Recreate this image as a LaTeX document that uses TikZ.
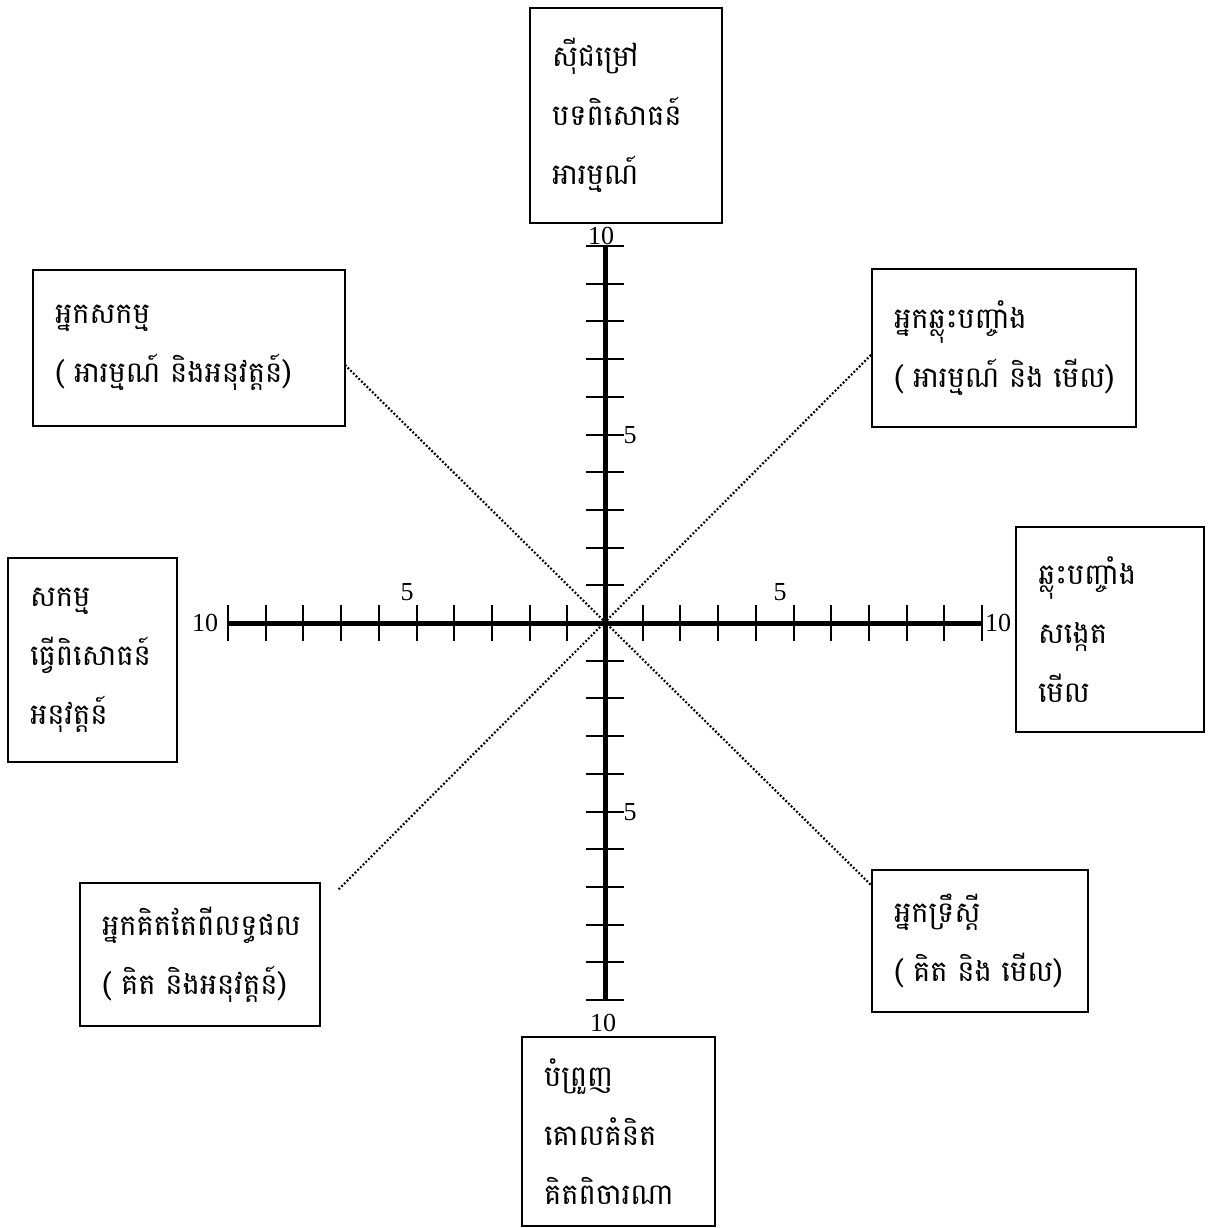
\documentclass[tikz,border=0pt]{standalone}
\usepackage{fontspec}
\setmainfont{Liberation Serif}
\newfontfamily\khm[Script=Khmer]{Battambang}
\begin{document}
\begin{tikzpicture}[x=1pt,y=-1pt,
  box/.style={draw,line width=1.6pt,inner xsep=22pt,inner ysep=0pt,align=left,
    font=\khm\fontsize{29}{59}\selectfont},
  axis/.style={line width=5pt},
  tick/.style={line width=2pt},
  diag/.style={line width=2.2pt,dash pattern=on 1.8pt off 2pt},
  num/.style={font=\fontsize{26}{28}\selectfont,inner sep=0pt}]
\useasboundingbox (0,0) rectangle (1208,1228);
% boxes
\node[box,text width=148pt,minimum height=215pt] (top) at (626,115.5) {\mbox{ស៊ីជម្រៅ}\\\mbox{បទពិសោធន៍}\\\mbox{អារម្មណ៍}};
\node[box,text width=268pt,minimum height=156pt] (nw) at (189,348) {\mbox{អ្នកសកម្ម}\\\mbox{( អារម្មណ៍ និងអនុវត្តន៍)}};
\node[box,text width=220pt,minimum height=158pt] (ne) at (1004,348) {\mbox{អ្នកឆ្លុះបញ្ចាំង}\\\mbox{( អារម្មណ៍ និង មើល)}};
\node[box,text width=125pt,minimum height=204pt] (w) at (92.5,660) {\mbox{សកម្ម}\\\mbox{ធ្វើពិសោធន៍}\\\mbox{អនុវត្តន៍}};
\node[box,text width=144pt,minimum height=205pt] (e) at (1110,629.5) {\mbox{ឆ្លុះបញ្ចាំង}\\\mbox{សង្កេត}\\\mbox{មើល}};
\node[box,text width=196pt,minimum height=143pt] (sw) at (200,954.5) {\mbox{អ្នកគិតតែពីលទ្ធផល}\\\mbox{( គិត និងអនុវត្តន៍)}};
\node[box,text width=172pt,minimum height=142pt] (se) at (980,941) {\mbox{អ្នកទ្រឹស្តី}\\\mbox{( គិត និង មើល)}};
\node[box,text width=149pt,minimum height=189pt] (bot) at (618.5,1131.5) {\mbox{បំព្រួញ}\\\mbox{គោលគំនិត}\\\mbox{គិតពិចារណា}};
% diagonals
\coordinate (d1a) at (345,365);
\coordinate (d1b) at (871,885);
\coordinate (d2a) at (871,355);
\coordinate (d2b) at (338,890);
\draw[diag] (d1a) -- (d1b);
\draw[diag] (d2a) -- (d2b);
% axes
\coordinate (L) at (228,623);
\coordinate (R) at (982,623);
\coordinate (T) at (605,246);
\coordinate (B) at (605,1000);
\foreach \i in {0,...,20} {
  \draw[tick] (228+37.7*\i,605) -- (228+37.7*\i,641);
  \draw[tick] (586,246+37.7*\i) -- (624,246+37.7*\i);
}
\draw[axis] (L) -- (R);
\draw[axis] (T) -- (B);
% labels
\node[num] (l10) at (205,623) {10};
\node[num] (l5) at (407,592) {5};
\node[num] (r5) at (780,592) {5};
\node[num] (r10) at (998,623) {10};
\node[num] (t10) at (601,236) {10};
\node[num] (t5) at (630,435) {5};
\node[num] (b5) at (630,812) {5};
\node[num] (b10) at (603,1023) {10};
\end{tikzpicture}
\end{document}
